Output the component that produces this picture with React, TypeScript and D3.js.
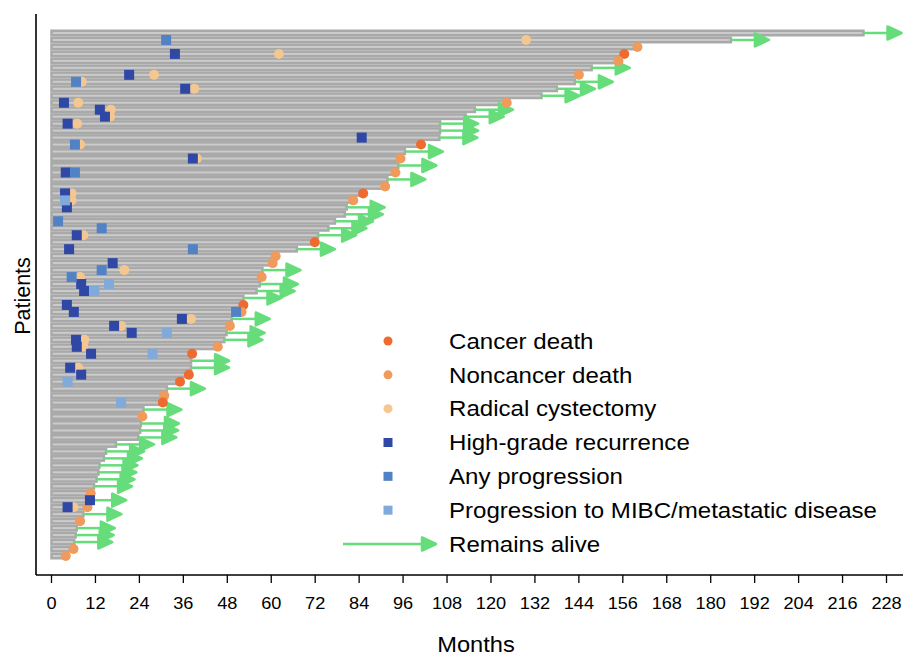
import React from 'react';
import * as d3 from 'd3';

// follow-up in months, patients ordered top to bottom
const followUp = [
  221.7, 185.5, 160.0, 156.4, 154.8, 147.5, 144.0, 142.9, 138.0, 133.8,
  124.3, 115.6, 113.1, 106.1, 106.1, 105.9, 100.9, 96.5, 95.3, 94.7,
  93.9, 91.7, 91.1, 85.1, 82.4, 80.6, 80.1, 77.4, 75.6, 72.8,
  71.9, 67.0, 61.2, 60.4, 57.6, 57.4, 56.9, 56.0, 52.4, 52.4,
  51.9, 49.2, 48.7, 47.8, 47.2, 45.4, 38.4, 38.1, 38.1, 37.5,
  35.1, 31.5, 30.8, 30.4, 25.1, 24.8, 24.4, 24.2, 23.7, 17.6,
  14.9, 14.3, 13.1, 12.8, 12.3, 11.6, 10.7, 10.0, 9.8, 8.7,
  7.8, 6.9, 6.6, 6.2, 6.0, 3.9,
];

// A = remains alive, C = cancer death, N = noncancer death
const outcome = [
  'A', 'A', 'N', 'C', 'N', 'A', 'N', 'A', 'A', 'A',
  'N', 'A', 'A', 'A', 'A', 'A', 'C', 'A', 'N', 'A',
  'N', 'A', 'N', 'C', 'N', 'A', 'A', 'A', 'A', 'A',
  'C', 'A', 'N', 'N', 'A', 'N', 'A', 'A', 'A', 'C',
  'N', 'A', 'N', 'A', 'A', 'N', 'C', 'A', 'A', 'C',
  'C', 'A', 'N', 'C', 'A', 'N', 'A', 'A', 'A', 'A',
  'A', 'A', 'A', 'A', 'A', 'A', 'N', 'A', 'N', 'A',
  'N', 'A', 'A', 'A', 'N', 'N',
];

// [patient, month]
const cystectomy = [
  [2, 129.6], [4, 62.1], [7, 28.0], [8, 8.3], [9, 39.0], [11, 7.3], [12, 16.2],
  [13, 16.0], [14, 7.0], [17, 7.8], [19, 39.7], [24, 5.5], [25, 5.5], [30, 8.7],
  [35, 19.9], [36, 7.8], [42, 38.1], [43, 19.0], [45, 9.0], [46, 8.7], [49, 7.3],
  [69, 6.0],
];
const hgRecurrence = [
  [4, 33.7], [7, 21.2], [9, 36.5], [11, 3.4], [12, 13.2], [13, 14.6], [14, 4.4],
  [16, 84.7], [19, 38.6], [21, 3.9], [24, 3.7], [26, 4.2], [30, 6.9], [32, 4.8],
  [34, 16.7], [37, 8.1], [38, 8.9], [40, 4.2], [41, 6.1], [42, 35.6], [43, 17.1],
  [44, 21.9], [45, 6.7], [46, 6.9], [47, 10.8], [49, 5.1], [50, 8.1], [68, 10.5],
  [69, 4.4],
];
const anyProgression = [
  [2, 31.3], [8, 6.7], [17, 6.4], [21, 6.4], [28, 1.8], [29, 13.7], [32, 38.6],
  [35, 13.7], [36, 5.5], [41, 50.4],
];
const mibcProgression = [
  [25, 3.7], [37, 15.7], [38, 11.7], [44, 31.5], [47, 27.6], [51, 4.4], [54, 19.0],
];

const xTicks = d3.range(0, 229, 12);

const legendItems = [
  { label: 'Cancer death', kind: 'circle', color: '#ee6b2f' },
  { label: 'Noncancer death', kind: 'circle', color: '#f09a5b' },
  { label: 'Radical cystectomy', kind: 'circle', color: '#f4c690' },
  { label: 'High-grade recurrence', kind: 'square', color: '#2f48a5' },
  { label: 'Any progression', kind: 'square', color: '#5282c6' },
  { label: 'Progression to MIBC/metastatic disease', kind: 'square', color: '#80aadc' },
  { label: 'Remains alive', kind: 'arrow', color: '#66dc7b' },
];

const colors = {
  cancer: '#ee6b2f',
  noncancer: '#f09a5b',
  rc: '#f4c690',
  hg: '#2f48a5',
  prog: '#5282c6',
  mibc: '#80aadc',
  alive: '#66dc7b',
  barFill: '#cbcbcb',
  barStroke: '#a9a9a9',
};

const font = 'Liberation Sans, Arial, sans-serif';
const W = 903;
const H = 656;
const stretch = 'scale(1.1,1)';

const x = d3.scaleLinear().domain([0, 228]).range([51.5, 886.5]);
const patients = d3.range(1, followUp.length + 1);
const y = d3.scalePoint<number>().domain(patients).range([33, 556]);

const arrowLen = 10.4; // months
const headLen = 14;
const headHalf = 6.5;

function arrowHead(tipX: number, cy: number) {
  return `M${tipX - headLen},${cy - headHalf}L${tipX},${cy}L${tipX - headLen},${cy + headHalf}Z`;
}

export default function App() {
  const barH = 4.5;
  const sq = 10;
  const r = 5;
  const axisY = 575;
  const legX = 388;
  const legTextX = 449;
  const legY = d3.scaleLinear().domain([0, 6]).range([341, 544]);

  return (
    <svg width={W} height={H} style={{ position: 'absolute', left: 0, top: 0, background: '#fff' }}>
      {/* bars */}
      <g>
        {followUp.map((m, i) => (
          <rect
            key={i}
            x={x(0)}
            y={y(i + 1)! - barH / 2}
            width={x(m) - x(0)}
            height={barH}
            fill={colors.barFill}
            stroke={colors.barStroke}
            strokeWidth={2.5}
          />
        ))}
      </g>

      {/* remains alive arrows */}
      <g>
        {followUp.map((m, i) => {
          if (outcome[i] !== 'A') return null;
          const cy = y(i + 1)!;
          const tip = x(m + arrowLen);
          return (
            <g key={i}>
              <line x1={x(m)} x2={tip - headLen + 2} y1={cy} y2={cy} stroke={colors.alive} strokeWidth={2.5} />
              <path d={arrowHead(tip, cy)} fill={colors.alive} stroke={colors.alive} strokeWidth={2.5} strokeLinejoin="round" />
            </g>
          );
        })}
      </g>

      {/* cystectomy */}
      <g>
        {cystectomy.map(([p, m], i) => (
          <circle key={i} cx={x(m)} cy={y(p)!} r={r} fill={colors.rc} />
        ))}
      </g>

      {/* deaths */}
      <g>
        {followUp.map((m, i) => {
          if (outcome[i] === 'A') return null;
          return (
            <circle
              key={i}
              cx={x(m)}
              cy={y(i + 1)!}
              r={r}
              fill={outcome[i] === 'C' ? colors.cancer : colors.noncancer}
            />
          );
        })}
      </g>

      {/* recurrence / progression squares */}
      {[
        { data: hgRecurrence, color: colors.hg },
        { data: anyProgression, color: colors.prog },
        { data: mibcProgression, color: colors.mibc },
      ].map((s, k) => (
        <g key={k}>
          {s.data.map(([p, m], i) => (
            <rect key={i} x={x(m) - sq / 2} y={y(p)! - sq / 2} width={sq} height={sq} fill={s.color} />
          ))}
        </g>
      ))}

      {/* axes */}
      <line x1={36} x2={36} y1={14} y2={axisY} stroke="#000" strokeWidth={1.6} />
      <line x1={36} x2={W} y1={axisY} y2={axisY} stroke="#000" strokeWidth={1.6} />
      {xTicks.map((t) => (
        <g key={t}>
          <line x1={x(t)} x2={x(t)} y1={axisY} y2={axisY + 8} stroke="#000" strokeWidth={1.3} />
          <text
            transform={`translate(${x(t)},${609}) ${stretch}`}
            textAnchor="middle"
            fontFamily={font}
            fontSize={16.5}
            fill="#000"
          >
            {t}
          </text>
        </g>
      ))}
      <text transform={`translate(476,652) ${stretch}`} textAnchor="middle" fontFamily={font} fontSize={21.5} fill="#000">
        Months
      </text>
      <text transform="translate(29.5,296) rotate(-90)" textAnchor="middle" fontFamily={font} fontSize={21.5} fill="#000">
        Patients
      </text>

      {/* legend */}
      <g>
        {legendItems.map((d, i) => {
          const cy = legY(i);
          let mark;
          if (d.kind === 'circle') mark = <circle cx={legX} cy={cy} r={4.5} fill={d.color} />;
          else if (d.kind === 'square') mark = <rect x={legX - 4.5} y={cy - 4.5} width={9} height={9} fill={d.color} />;
          else
            mark = (
              <g>
                <line x1={343} x2={424} y1={cy} y2={cy} stroke={d.color} strokeWidth={2.5} />
                <path d={arrowHead(436, cy)} fill={d.color} stroke={d.color} strokeWidth={2.5} strokeLinejoin="round" />
              </g>
            );
          return (
            <g key={d.label}>
              {mark}
              <text
                transform={`translate(${legTextX},${cy + 7.8}) scale(1.12,1)`}
                fontFamily={font}
                fontSize={21.5}
                fill="#000"
              >
                {d.label}
              </text>
            </g>
          );
        })}
      </g>
    </svg>
  );
}
